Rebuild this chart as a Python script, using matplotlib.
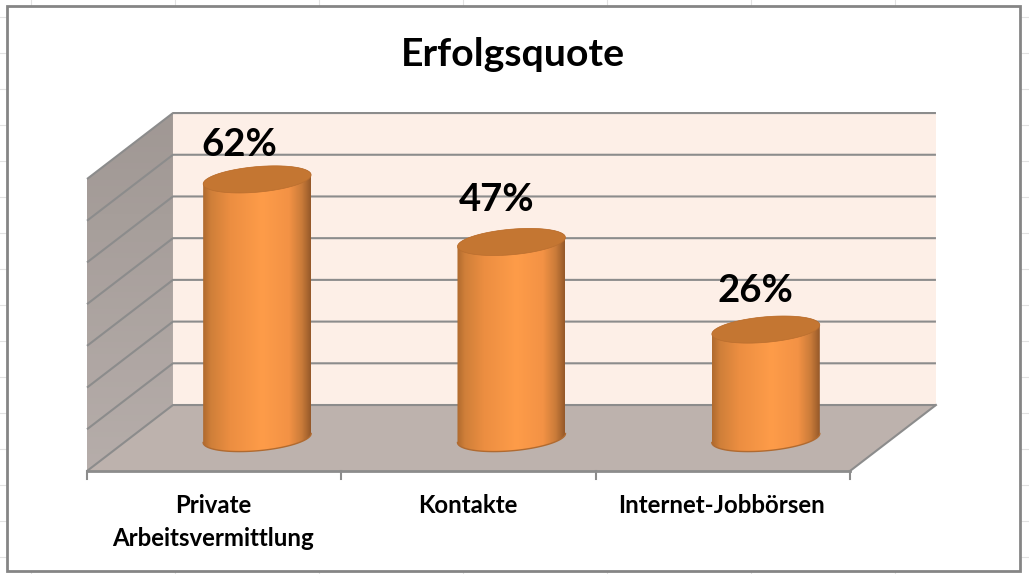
#!/usr/bin/env python3
"""Excel style 3D cylinder chart, drawn on a plain axes with a small projection."""

import matplotlib

matplotlib.use("Agg")
import matplotlib.pyplot as plt
import numpy as np
from matplotlib.colors import LinearSegmentedColormap
from matplotlib.lines import Line2D
from matplotlib.patches import Polygon, Rectangle

W, H = 1029, 574

TITLE = "Erfolgsquote"
CATEGORIES = ["Private\nArbeitsvermittlung", "Kontakte", "Internet-Jobbörsen"]
VALUES = [62, 47, 26]
GRID_TICKS = [0, 10, 20, 30, 40, 50, 60, 70]

LINE = "#8c8c8c"
BACK_WALL = "#fdefe7"
FLOOR = "#bdb2ad"
CAP = "#c47632"
SHEET = "#e2e2e2"

# pixels per data unit, and where the front corner of the box sits
PX_X = 254.33
PX_Y = 4.171
ORIGIN_X = 87
ORIGIN_Y = 471

# depth of the box, in data units
DX = 0.338
DY = 15.82
# half axes of the cylinder ellipse, plus the tilt that lifts its right end
RX = 0.2123
RY = 3.07
TILT = 1.08

BODY = LinearSegmentedColormap.from_list(
    "body",
    [
        (0.0, "#b06a2e"),
        (0.07, "#cf7f39"),
        (0.25, "#ec8e41"),
        (0.55, "#fe9c49"),
        (0.8, "#f39245"),
        (0.92, "#c97b39"),
        (1.0, "#96592a"),
    ],
)
WALL = LinearSegmentedColormap.from_list("wall", ["#b6adaa", "#a09894"])

plt.rcParams["font.family"] = ["Lato", "DejaVu Sans"]


def project(x, y, depth=0.0):
    return x + depth * DX, y + depth * DY


def ellipse(cx, cy, start, stop, n=80):
    t = np.linspace(start, stop, n)
    return np.column_stack(
        [cx + RX * np.cos(t), cy + RY * np.sin(t) + TILT * np.cos(t)]
    )


def draw_box(ax):
    left, right = -0.5, 2.5
    top = GRID_TICKS[-1]
    ax.add_patch(
        Polygon(
            [project(left, 0, 1), project(right, 0, 1), project(right, top, 1), project(left, top, 1)],
            color=BACK_WALL,
            lw=0,
            zorder=1,
        )
    )
    wall = Polygon(
        [project(left, 0), project(left, top), project(left, top, 1), project(left, 0, 1)],
        fc="none",
        lw=0,
    )
    ax.add_patch(wall)
    grad = np.linspace(0, 1, 64).reshape(-1, 1)
    im = ax.imshow(
        grad,
        cmap=WALL,
        origin="lower",
        aspect="auto",
        extent=(left, left + DX, 0, top + DY),
        zorder=1,
    )
    im.set_clip_path(wall)
    ax.add_patch(
        Polygon(
            [project(left, 0), project(right, 0), project(right, 0, 1), project(left, 0, 1)],
            color=FLOOR,
            lw=0,
            zorder=1,
        )
    )
    for tick in GRID_TICKS:
        xs, ys = zip(project(left, tick), project(left, tick, 1), project(right, tick, 1))
        ax.plot(xs, ys, color=LINE, lw=1.5, zorder=2, solid_capstyle="butt")
    xs, ys = zip(project(right, 0), project(right, 0, 1))
    ax.plot(xs, ys, color=LINE, lw=1.5, zorder=2)
    ax.plot([left, right], [0, 0], color=LINE, lw=2, zorder=2)
    for i in range(len(CATEGORIES) + 1):
        ax.plot([left + i, left + i], [0, -1.8], color=LINE, lw=1.5, zorder=2)


def draw_cylinder(ax, i, value):
    cx, base = project(i, 0, 0.5)
    top = base + value
    outline = np.vstack(
        [ellipse(cx, base, np.pi, 2 * np.pi), ellipse(cx, top, 0, np.pi)]
    )
    body = Polygon(outline, fc="none", lw=0)
    ax.add_patch(body)
    grad = np.linspace(0, 1, 128).reshape(1, -1)
    im = ax.imshow(
        grad,
        cmap=BODY,
        aspect="auto",
        extent=(cx - RX, cx + RX, base - RY - TILT, top + RY + TILT),
        zorder=3,
    )
    im.set_clip_path(body)
    rim = ellipse(cx, base, np.pi, 2 * np.pi)
    ax.plot(rim[:, 0], rim[:, 1], color="#b06a30", lw=1, zorder=4)
    ax.add_patch(Polygon(ellipse(cx, top, 0, 2 * np.pi), fc=CAP, ec="#b96e2f", lw=0.5, zorder=5))


def main():
    fig = plt.figure(figsize=(W / 100, H / 100), dpi=100, facecolor="white")

    # worksheet cells showing around the chart
    for y in np.arange(17, H, 36):
        fig.add_artist(Line2D([0, 1], [1 - y / H] * 2, color=SHEET, lw=0.8, zorder=0))
    for x in np.arange(31, W, 144):
        fig.add_artist(Line2D([x / W] * 2, [0, 1], color=SHEET, lw=0.8, zorder=0))
    fig.add_artist(
        Rectangle(
            (7 / W, 1 - 570.5 / H),
            1013 / W,
            564.5 / H,
            transform=fig.transFigure,
            fc="white",
            ec="#858585",
            lw=2,
            zorder=0.5,
        )
    )

    # the axes fill the figure so nothing of the box gets clipped
    ax = fig.add_axes([0, 0, 1, 1], zorder=1)
    ax.patch.set_visible(False)
    ax.axis("off")

    draw_box(ax)
    for i, value in enumerate(VALUES):
        draw_cylinder(ax, i, value)
    ax.set_xlim(-0.5 - ORIGIN_X / PX_X, -0.5 + (W - ORIGIN_X) / PX_X)
    ax.set_ylim((ORIGIN_Y - H) / PX_Y, ORIGIN_Y / PX_Y)

    label_shift = [(-18, 34), (-15, 42), (-10, 39)]
    for i, value in enumerate(VALUES):
        cx, base = project(i, 0, 0.5)
        ax.annotate(
            f"{value}%",
            (cx, base + value),
            xytext=label_shift[i],
            textcoords="offset pixels",
            ha="center",
            va="center",
            fontsize=27.5,
            fontweight="bold",
            color="black",
            zorder=6,
        )

    for i, label in enumerate(CATEGORIES):
        ax.annotate(
            label,
            (i, 0),
            xytext=(-1, -23),
            textcoords="offset pixels",
            ha="center",
            va="top",
            fontsize=17.3,
            fontweight="bold",
            color="black",
            linespacing=1.5,
        )

    fig.text(513 / W, 1 - 54 / H, TITLE, ha="center", va="center", fontsize=28.3, fontweight="bold")
    fig.savefig("out.png", dpi=100)


if __name__ == "__main__":
    main()
